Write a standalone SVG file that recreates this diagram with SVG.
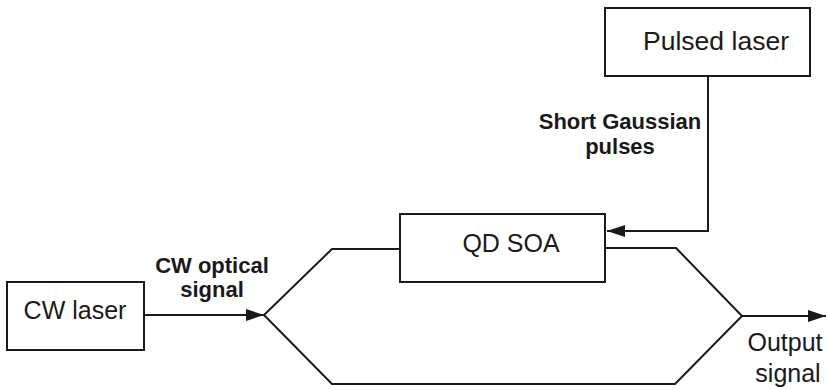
<svg xmlns="http://www.w3.org/2000/svg" width="827" height="390" viewBox="0 0 827 390">
<style>
.box{fill:#fff;stroke:#1a1a1a;stroke-width:2}
.ln{fill:none;stroke:#1a1a1a;stroke-width:2}
.t{font-family:"Liberation Sans",Arial,sans-serif;font-size:25px;fill:#1a1a1a;text-anchor:middle}
.b{font-family:"Liberation Sans",Arial,sans-serif;font-size:22px;font-weight:bold;fill:#1a1a1a;text-anchor:middle}
</style>
<defs>
<marker id="ah" markerUnits="userSpaceOnUse" markerWidth="18" markerHeight="12" refX="18" refY="6" orient="auto">
<path d="M0,0 L18,6 L0,12 Z" fill="#1a1a1a"/>
</marker>
</defs>
<rect width="827" height="390" fill="#fff"/>
<g id="connectors">
<path class="ln" d="M708,76 V231 H607" marker-end="url(#ah)"/>
<path class="ln" d="M144,315 H264" marker-end="url(#ah)"/>
<path class="ln" d="M400,249 H332 L264,315 L332,384 H675 L742,316 L676,248 H605"/>
<path class="ln" d="M742,316 H826" marker-end="url(#ah)"/>
</g>
<g id="pulsed-laser">
<rect class="box" x="605" y="8" width="205" height="68"/>
<text class="t" x="716" y="50" textLength="146" lengthAdjust="spacingAndGlyphs">Pulsed laser</text>
</g>
<g id="qd-soa">
<rect class="box" x="400" y="214" width="205" height="68"/>
<text class="t" x="511" y="252">QD SOA</text>
</g>
<g id="cw-laser">
<rect class="box" x="7" y="282" width="137" height="68"/>
<text class="t" x="75" y="319">CW laser</text>
</g>
<g id="labels">
<text class="b" x="620" y="129">Short Gaussian</text>
<text class="b" x="620" y="154">pulses</text>
<text class="b" x="212" y="273">CW optical</text>
<text class="b" x="212" y="297">signal</text>
<text class="t" x="785" y="351">Output</text>
<text class="t" x="788" y="382">signal</text>
</g>
</svg>
